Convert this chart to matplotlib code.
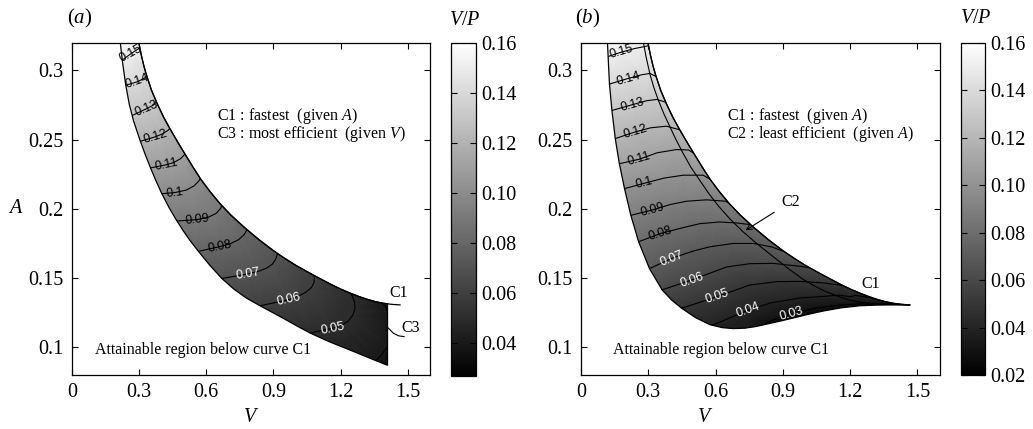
import numpy as np
import matplotlib.pyplot as plt
import matplotlib.tri as mtri
from matplotlib.path import Path
from matplotlib.patches import PathPatch

plt.rcParams['font.family'] = 'Liberation Serif'
plt.rcParams['mathtext.fontset'] = 'custom'
plt.rcParams['mathtext.rm'] = 'Liberation Serif'
plt.rcParams['mathtext.it'] = 'Liberation Serif:italic'

# curva C1 (a mesma nos dois paineis)
c1_v = [0.298, 0.310, 0.322, 0.334, 0.355, 0.380, 0.410, 0.440, 0.475, 0.507, 0.540, 0.575, 0.615,
        0.660, 0.710, 0.770, 0.835, 0.900, 0.950, 1.000, 1.040, 1.078, 1.120, 1.160, 1.200, 1.242,
        1.280, 1.320, 1.355, 1.391, 1.430, 1.466]
c1_a = [0.3204, 0.3108, 0.3027, 0.2960, 0.2858, 0.2762, 0.2660, 0.2572, 0.2475, 0.2390, 0.2303, 0.2215, 0.2128,
        0.2040, 0.1955, 0.1866, 0.1778, 0.1698, 0.1643, 0.1592, 0.1556, 0.1522, 0.1486, 0.1452, 0.1421, 0.1392,
        0.1368, 0.1346, 0.1330, 0.1318, 0.1310, 0.1306]

# ---- painel (a) ----
borda_a_v = [0.216, 0.227, 0.240, 0.256, 0.275, 0.304, 0.326, 0.349, 0.375, 0.401, 0.435, 0.468, 0.497,
             0.527, 0.565, 0.615, 0.669, 0.725, 0.780, 0.840, 0.900, 0.960, 1.010, 1.064, 1.150, 1.250,
             1.330, 1.410]
borda_a_a = [0.3197, 0.3045, 0.2895, 0.2755, 0.2635, 0.2495, 0.2398, 0.2303, 0.2203, 0.2111, 0.2005, 0.1915, 0.1842,
             0.1772, 0.1693, 0.1594, 0.1498, 0.1418, 0.1355, 0.1300, 0.1248, 0.1195, 0.1150, 0.1103, 0.1040, 0.0975,
             0.0922, 0.0870]
c3_v = 1.41

niveis_a = [0.15, 0.14, 0.13, 0.12, 0.11, 0.10, 0.09, 0.08, 0.07, 0.06, 0.05, 0.04]
iso_a_v = [
    [0.195, 0.225, 0.263, 0.31],
    [0.215, 0.24, 0.293, 0.325, 0.345],
    [0.25, 0.274, 0.332, 0.362, 0.39],
    [0.28, 0.304, 0.372, 0.405, 0.43, 0.45],
    [0.325, 0.349, 0.421, 0.455, 0.485, 0.505, 0.515],
    [0.37, 0.394, 0.461, 0.51, 0.545, 0.565, 0.585],
    [0.445, 0.468, 0.558, 0.61, 0.645, 0.665, 0.675],
    [0.54, 0.565, 0.662, 0.71, 0.745, 0.77, 0.782, 0.79],
    [0.645, 0.67, 0.786, 0.835, 0.87, 0.895, 0.91, 0.917, 0.915],
    [0.815, 0.84, 0.967, 1.01, 1.045, 1.07, 1.082, 1.083, 1.078],
    [1.04, 1.064, 1.164, 1.205, 1.235, 1.255, 1.265, 1.263, 1.252, 1.24],
    [1.345, 1.362, 1.385, 1.41, 1.43, 1.44, 1.425, 1.41, 1.40, 1.385],
]
iso_a_a = [
    [0.3045, 0.3075, 0.312, 0.317],
    [0.2875, 0.2893, 0.2918, 0.2945, 0.298],
    [0.2655, 0.2678, 0.2722, 0.2748, 0.279],
    [0.2465, 0.2487, 0.252, 0.2542, 0.2568, 0.261],
    [0.2275, 0.2295, 0.2318, 0.2335, 0.2362, 0.2395, 0.2425],
    [0.2085, 0.2108, 0.2118, 0.2135, 0.2165, 0.2198, 0.2245],
    [0.1885, 0.1912, 0.1922, 0.194, 0.1968, 0.2005, 0.205],
    [0.1665, 0.1693, 0.1728, 0.175, 0.1778, 0.1815, 0.185, 0.19],
    [0.1475, 0.1497, 0.153, 0.155, 0.1572, 0.16, 0.1635, 0.167, 0.175],
    [0.1275, 0.130, 0.1343, 0.1368, 0.1398, 0.1432, 0.147, 0.1505, 0.156],
    [0.108, 0.1103, 0.1138, 0.1158, 0.119, 0.1232, 0.128, 0.1325, 0.137, 0.142],
    [0.087, 0.0909, 0.095, 0.1005, 0.103, 0.11, 0.12, 0.1258, 0.1295, 0.133],
]
# valores estimados fora da regiao (topo e cantos)
extra_a_v = [0.19, 0.25, 0.32, 1.47, 1.50, 1.49, 1.42, 1.36]
extra_a_a = [0.326, 0.329, 0.333, 0.14, 0.118, 0.095, 0.08, 0.08]
extra_a_val = [0.16, 0.16, 0.16, 0.03, 0.03, 0.03, 0.03, 0.03]

# ---- painel (b) ----
borda_b_v = [0.118, 0.127, 0.138, 0.153, 0.171, 0.194, 0.222, 0.257, 0.305, 0.362, 0.405, 0.449, 0.510,
             0.575, 0.630, 0.680, 0.730, 0.780, 0.835, 0.890, 0.950, 1.010, 1.080, 1.160, 1.243, 1.320,
             1.392, 1.466]
borda_b_a = [0.3204, 0.2902, 0.2710, 0.2507, 0.2327, 0.2147, 0.1955, 0.1762, 0.1570, 0.1414, 0.1340, 0.1282, 0.1215,
             0.1163, 0.1142, 0.1135, 0.1138, 0.1150, 0.1170, 0.1190, 0.1213, 0.1237, 0.1262, 0.1285, 0.1300, 0.1305,
             0.1306, 0.1306]
c2_v = [0.278, 0.290, 0.307, 0.325, 0.345, 0.370, 0.397, 0.425, 0.456, 0.490, 0.530, 0.570, 0.612, 0.665,
        0.723, 0.783, 0.857, 0.931, 0.991, 1.040, 1.095, 1.150, 1.199, 1.250, 1.300, 1.380, 1.466]
c2_a = [0.3204, 0.3100, 0.2976, 0.2875, 0.2784, 0.2685, 0.2591, 0.2495, 0.2399, 0.2300, 0.2205, 0.2110, 0.2022, 0.1925,
        0.1834, 0.1750, 0.1654, 0.1560, 0.1490, 0.1443, 0.1400, 0.1365, 0.1340, 0.1325, 0.1316, 0.1310, 0.1306]

niveis_b = [0.15, 0.14, 0.13, 0.12, 0.11, 0.10, 0.09, 0.08, 0.07, 0.06, 0.05, 0.04, 0.03]
iso_b_v = [
    [0.09, 0.111, 0.181, 0.24, 0.293, 0.32],
    [0.105, 0.129, 0.211, 0.27, 0.307, 0.337, 0.355],
    [0.115, 0.137, 0.229, 0.29, 0.337, 0.389, 0.41],
    [0.13, 0.152, 0.241, 0.31, 0.381, 0.449, 0.47],
    [0.15, 0.174, 0.259, 0.34, 0.426, 0.48, 0.516, 0.535],
    [0.175, 0.196, 0.281, 0.37, 0.456, 0.545, 0.582, 0.60],
    [0.205, 0.227, 0.319, 0.40, 0.471, 0.56, 0.645, 0.67],
    [0.235, 0.256, 0.355, 0.45, 0.53, 0.619, 0.694, 0.76, 0.80],
    [0.285, 0.307, 0.404, 0.50, 0.575, 0.679, 0.768, 0.85, 0.90, 0.93],
    [0.34, 0.36, 0.493, 0.649, 0.753, 0.857, 0.976, 1.04, 1.07],
    [0.43, 0.449, 0.605, 0.753, 0.872, 0.976, 1.08, 1.16, 1.20],
    [0.555, 0.575, 0.746, 0.85, 0.976, 1.1, 1.2, 1.3, 1.34],
    [0.80, 0.835, 0.939, 1.05, 1.15, 1.25, 1.35, 1.45],
]
iso_b_a = [
    [0.3075, 0.3095, 0.3132, 0.3158, 0.3175, 0.3185],
    [0.288, 0.2902, 0.2942, 0.2968, 0.2978, 0.2965, 0.294],
    [0.269, 0.271, 0.2752, 0.278, 0.279, 0.2765, 0.274],
    [0.249, 0.2507, 0.2555, 0.2585, 0.2597, 0.2567, 0.254],
    [0.231, 0.2327, 0.2358, 0.2405, 0.2428, 0.2425, 0.2387, 0.236],
    [0.213, 0.2147, 0.2184, 0.2222, 0.2243, 0.2243, 0.2207, 0.218],
    [0.1938, 0.1955, 0.1992, 0.2032, 0.2055, 0.2065, 0.2055, 0.203],
    [0.1745, 0.1762, 0.1822, 0.1862, 0.1893, 0.1905, 0.1898, 0.1885, 0.1865],
    [0.155, 0.157, 0.1642, 0.1695, 0.1726, 0.175, 0.175, 0.1725, 0.1695, 0.1675],
    [0.139, 0.1414, 0.1486, 0.158, 0.1604, 0.1606, 0.1585, 0.157, 0.155],
    [0.1265, 0.1282, 0.1365, 0.145, 0.1474, 0.1476, 0.1465, 0.1448, 0.1435],
    [0.113, 0.1152, 0.1269, 0.1322, 0.1356, 0.137, 0.1365, 0.1355, 0.1345],
    [0.1145, 0.1185, 0.1245, 0.1285, 0.1305, 0.1315, 0.1318, 0.1312],
]
extra_b_v = [0.08, 0.2, 0.34, 0.55, 0.75, 0.95, 1.15, 1.35, 1.55, 1.55]
extra_b_a = [0.327, 0.329, 0.332, 0.105, 0.107, 0.114, 0.122, 0.126, 0.127, 0.134]
extra_b_val = [0.16, 0.16, 0.16, 0.034, 0.031, 0.022, 0.02, 0.022, 0.025, 0.03]

xticks = [0, 0.3, 0.6, 0.9, 1.2, 1.5]
xtick_labels = ['0', '0.3', '0.6', '0.9', '1.2', '1.5']
yticks = [0.1, 0.15, 0.2, 0.25, 0.3]
ytick_labels = ['0.1', '0.15', '0.2', '0.25', '0.3']
cb_ticks_a = [0.04, 0.06, 0.08, 0.10, 0.12, 0.14, 0.16]
cb_ticks_b = [0.02, 0.04, 0.06, 0.08, 0.10, 0.12, 0.14, 0.16]

FS_TXT = 11.5
FS_TICK = 14.5


def juntar_pontos(niveis, iso_v, iso_a, extra_v, extra_a, extra_val):
    """
    Junta os pontos das isolinhas lidas e os pontos extras num unico conjunto.
    """

    x, y, z = list(extra_v), list(extra_a), list(extra_val)
    for nivel, lv, la in zip(niveis, iso_v, iso_a):
        x += lv
        y += la
        z += [nivel] * len(lv)

    return np.array(x), np.array(y), np.array(z)


def desenhar_painel(ax, cax, pontos, niveis, regiao, vmin, vmax, cb_ticks, pos_escuro, pos_claro):
    """
    Desenha o campo V/P dentro da regiao, as isolinhas e a barra de cores.
    """

    x, y, z = pontos
    # triangulacao feita em coordenadas com escala parecida com a da tela
    dela = mtri.Triangulation(x, y * 6.2)
    tri = mtri.Triangulation(x, y, triangles=dela.triangles)

    verts = np.vstack([regiao, regiao[:1]])
    patch = PathPatch(Path(verts, closed=True), facecolor='none', edgecolor='k',
                      lw=0.9, zorder=3, transform=ax.transData)
    ax.add_patch(patch)

    img = ax.tripcolor(tri, z, shading='gouraud', cmap='gray', vmin=vmin, vmax=vmax)
    img.set_clip_path(patch)

    escuros = sorted([n for n in niveis if n >= 0.075])
    claros = sorted([n for n in niveis if n < 0.075])
    cs1 = ax.tricontour(tri, z, levels=escuros, colors='k', linewidths=0.8)
    cs1.set_clip_path(patch)
    cs2 = ax.tricontour(tri, z, levels=claros, colors='k', linewidths=0.8)
    cs2.set_clip_path(patch)

    textos = ax.clabel(cs1, fmt='%g', manual=pos_escuro, inline=False, fontsize=9, colors='k')
    textos += ax.clabel(cs2, fmt='%g', manual=pos_claro, inline=False, fontsize=9, colors='w')
    for t in textos:
        t.set_fontfamily('Liberation Sans')

    ax.set_xlim(0, 1.6)
    ax.set_ylim(0.08, 0.32)
    ax.set_xticks(xticks, labels=xtick_labels)
    ax.set_yticks(yticks, labels=ytick_labels)
    ax.tick_params(direction='in', top=True, right=True, length=4, width=0.8, labelsize=FS_TICK, pad=6)
    for s in ax.spines.values():
        s.set_linewidth(0.9)

    cb = plt.colorbar(img, cax=cax)
    cb.set_ticks(cb_ticks, labels=['%.2f' % t for t in cb_ticks])
    cax.tick_params(direction='in', left=True, right=True, length=4, width=0.8, labelsize=FS_TICK, pad=4)
    cb.outline.set_linewidth(0.9)


fig = plt.figure(figsize=(10.33, 4.29), dpi=100)
ax_a = fig.add_axes([0.0697, 0.1259, 0.3466, 0.7746])
cax_a = fig.add_axes([0.4363, 0.1235, 0.0242, 0.7770])
ax_b = fig.add_axes([0.5624, 0.1259, 0.3475, 0.7746])
cax_b = fig.add_axes([0.9300, 0.1259, 0.0235, 0.7746])

# regiao (a): borda inferior, corte vertical C3 e curva C1
c1v = np.array(c1_v)
c1a = np.array(c1_a)
dentro = c1v < c3_v
topo_c3 = np.interp(c3_v, c1v, c1a)
regiao_a = np.column_stack([
    np.concatenate([borda_a_v, [c3_v], c1v[dentro][::-1]]),
    np.concatenate([borda_a_a, [topo_c3], c1a[dentro][::-1]]),
])
regiao_b = np.column_stack([
    np.concatenate([borda_b_v, c1v[::-1]]),
    np.concatenate([borda_b_a, c1a[::-1]]),
])

pontos_a = juntar_pontos(niveis_a, iso_a_v, iso_a_a, extra_a_v, extra_a_a, extra_a_val)
pontos_b = juntar_pontos(niveis_b, iso_b_v, iso_b_a, extra_b_v, extra_b_a, extra_b_val)

pos_a_escuro = [(0.263, 0.312), (0.293, 0.2916), (0.332, 0.2724), (0.372, 0.2519),
                (0.421, 0.2315), (0.461, 0.2115), (0.558, 0.1918), (0.662, 0.1726)]
pos_a_claro = [(0.786, 0.1529), (0.967, 0.1341), (1.164, 0.1137)]
pos_b_escuro = [(0.181, 0.3132), (0.211, 0.294), (0.229, 0.2752), (0.241, 0.2555),
                (0.259, 0.2356), (0.281, 0.2183), (0.319, 0.199), (0.355, 0.1822)]
pos_b_claro = [(0.404, 0.1642), (0.493, 0.1486), (0.605, 0.1365), (0.746, 0.1269), (0.939, 0.1245)]

desenhar_painel(ax_a, cax_a, pontos_a, niveis_a, regiao_a, 0.0267, 0.16, cb_ticks_a, pos_a_escuro, pos_a_claro)
desenhar_painel(ax_b, cax_b, pontos_b, niveis_b, regiao_b, 0.02, 0.16, cb_ticks_b, pos_b_escuro, pos_b_claro)

# curvas C1, C2 e legendas
ax_a.plot(c1_v, c1_a, color='k', lw=0.9)
ax_a.plot([1.414, 1.436, 1.459, 1.484], [0.1138, 0.1102, 0.1083, 0.1077], color='k', lw=0.8)
ax_a.text(1.46, 0.139, 'C1', ha='center', va='center', fontsize=FS_TXT)
ax_a.text(1.515, 0.1138, 'C3', ha='center', va='center', fontsize=FS_TXT)
ax_a.text(0.646, 0.2645, 'C1 : fastest  (given $A$)', fontsize=FS_TXT)
ax_a.text(0.646, 0.2512, 'C3 : most efficient  (given $V$)', fontsize=FS_TXT)
ax_a.text(0.103, 0.0952, 'Attainable region below curve C1', fontsize=FS_TXT)

ax_b.plot(c1_v, c1_a, color='k', lw=0.9)
ax_b.plot(c2_v, c2_a, color='k', lw=0.8)
ax_b.annotate('', xy=(0.723, 0.1834), xytext=(0.872, 0.1986),
              arrowprops=dict(arrowstyle='->', lw=0.8, color='k'))
ax_b.text(0.934, 0.205, 'C2', ha='center', va='center', fontsize=FS_TXT)
ax_b.text(1.291, 0.1457, 'C1', ha='center', va='center', fontsize=FS_TXT)
ax_b.text(0.649, 0.2645, 'C1 : fastest  (given $A$)', fontsize=FS_TXT)
ax_b.text(0.649, 0.2512, 'C2 : least efficient  (given $A$)', fontsize=FS_TXT)
ax_b.text(0.144, 0.0952, 'Attainable region below curve C1', fontsize=FS_TXT)

ax_a.set_xlabel('$V$', fontsize=14.5, labelpad=6)
ax_b.set_xlabel('$V$', fontsize=14.5, labelpad=6)
ax_b.xaxis.set_label_coords(0.345, -0.1)
ax_a.xaxis.set_label_coords(0.5, -0.1)
ax_a.xaxis.label.set_va('top')
ax_b.xaxis.label.set_va('top')
fig.text(0.0155, 0.515, '$A$', fontsize=14.5, ha='center', va='center')
fig.text(0.0649, 0.956, '($a$)', fontsize=15, ha='left', va='center')
fig.text(0.5566, 0.956, '($b$)', fontsize=15, ha='left', va='center')
fig.text(0.450, 0.953, '$V/P$', fontsize=14.5, ha='center', va='center')
fig.text(0.945, 0.956, '$V/P$', fontsize=14.5, ha='center', va='center')

plt.savefig('out.png', dpi=100)
